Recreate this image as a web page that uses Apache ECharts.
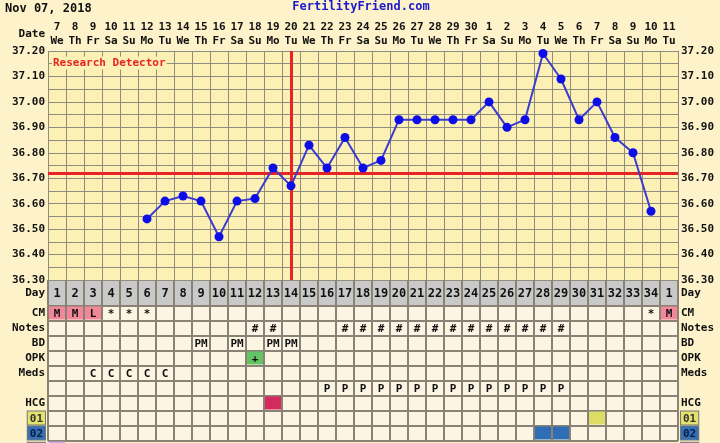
<!DOCTYPE html>
<html><head><meta charset="utf-8">
<script src="https://cdn.jsdelivr.net/npm/echarts@6/dist/echarts.min.js"></script>
<style>html,body{margin:0;padding:0;background:#FDF2C9;}#c{width:720px;height:443px;}</style>
</head><body><div id="c"></div>
<script>
// ---------- DATA ----------
const dates = ['7','8','9','10','11','12','13','14','15','16','17','18','19','20','21','22','23','24','25','26','27','28','29','30','1','2','3','4','5','6','7','8','9','10','11'];
const weekdays = ['We','Th','Fr','Sa','Su','Mo','Tu','We','Th','Fr','Sa','Su','Mo','Tu','We','Th','Fr','Sa','Su','Mo','Tu','We','Th','Fr','Sa','Su','Mo','Tu','We','Th','Fr','Sa','Su','Mo','Tu'];
const cycleDays = ['1','2','3','4','5','6','7','8','9','10','11','12','13','14','15','16','17','18','19','20','21','22','23','24','25','26','27','28','29','30','31','32','33','34','1'];
const temps = [null,null,null,null,null,36.54,36.61,36.63,36.61,36.47,36.61,36.62,36.74,36.67,36.83,36.74,36.86,36.74,36.77,36.93,36.93,36.93,36.93,36.93,37.00,36.90,36.93,37.19,37.09,36.93,37.00,36.86,36.80,36.57,null];
const tempTicks = ['36.30','36.40','36.50','36.60','36.70','36.80','36.90','37.00','37.10','37.20'];
const coverline = 36.72;
const ovulationDay = 14;
const rowNames = ['CM','Notes','BD','OPK','Meds','','HCG','01','02'];
const lastRowName = ['03'];
const cmDays = [1,2,3,4,5,6,34,35];
const cmMarks = ['M','M','L','*','*','*','*','M'];
const notesDays = [12,13,17,18,19,20,21,22,23,24,25,26,27,28,29];
const bdDays = [9,11,13,14];
const opkDays = [12];
const medsDays = [3,4,5,6,7];
const progDays = [16,17,18,19,20,21,22,23,24,25,26,27,28,29];
const hcgDays = [13];
const row01Days = [31];
const row02Days = [28,29];
const row03Days = [1];

// ---------- BUILD ----------
const FONT = '"DejaVu Sans Mono", monospace';
const fills = {CM:'#F3879A', OPK:'#62C462', HCG:'#D52A5E', '01':'#DCDC66', '02':'#2F6DB5', '03':'#C6A8E2'};
const cells = [];
function addRow(row, days, marks) {
  days.forEach((d, i) => {
    const text = Array.isArray(marks) ? marks[i] : marks;
    let fill = null;
    if (row === 'CM') fill = (text === 'M' || text === 'L') ? fills.CM : null;
    else if (fills[row]) fill = fills[row];
    cells.push({x: d - 1, y: rowNames.indexOf(row), text, fill});
  });
}
addRow('CM', cmDays, cmMarks);
addRow('Notes', notesDays, '#');
addRow('BD', bdDays, 'PM');
addRow('OPK', opkDays, '+');
addRow('Meds', medsDays, 'C');
addRow('', progDays, 'P');
addRow('HCG', hcgDays, '');
addRow('01', row01Days, '');
addRow('02', row02Days, '');

const topLabels = dates.map((d, i) => d + '\n' + weekdays[i]);
const lab = {fontFamily: FONT, fontWeight: 'bold', fontSize: 11, color: '#111'};
const G = {left: 48, right: 42};
const tableLine = {color: '#8a8274', width: 2};

const box = (bg, fg) => ({backgroundColor: bg, borderColor: '#777', borderWidth: 1, padding: [2, 2, 0, 2], fontFamily: FONT, fontWeight: 'bold', fontSize: 11, color: fg});
const rich = {r01: box('#E2E26C', '#333'), r02: box('#3370B8', '#0c1c3c'), r03: box('#C6A8E2', '#333')};
function rowLabel(v) {
  if (v === '01') return '{r01|01}';
  if (v === '02') return '{r02|02}';
  if (v === '03') return '{r03|03}';
  return v;
}
const hidden = {axisLine: {show: false}, axisTick: {show: false}};

const chart = echarts.init(document.getElementById('c'), null, {renderer: 'canvas'});
chart.setOption({
  backgroundColor: '#FDF2C9',
  animation: false,
  grid: [
    {left: G.left, right: G.right, top: 51, height: 229, show: true, backgroundColor: '#FCF0B4', borderWidth: 0},
    {left: G.left, right: G.right, top: 280, height: 25.5, show: true, backgroundColor: '#C9C9C9', borderWidth: 0},
    {left: G.left, right: G.right, top: 305.5, height: 135, show: true, backgroundColor: '#FDF5E3', borderWidth: 0},
    {left: G.left, right: G.right, top: 440.5, height: 2.5, show: true, backgroundColor: '#FDF5E3', borderWidth: 0}
  ],
  xAxis: [
    Object.assign({gridIndex: 0, type: 'category', data: cycleDays, axisLabel: {show: false},
     splitLine: {show: true, interval: 0, lineStyle: {color: '#8f8c80', width: 1}}}, hidden),
    Object.assign({gridIndex: 0, type: 'category', position: 'top', data: topLabels,
     axisLabel: Object.assign({interval: 0, margin: 3, lineHeight: 14}, lab)}, hidden),
    Object.assign({gridIndex: 1, type: 'category', data: cycleDays, axisLabel: {show: false},
     splitLine: {show: true, interval: 0, lineStyle: tableLine}}, hidden),
    Object.assign({gridIndex: 2, type: 'category', data: cycleDays, axisLabel: {show: false},
     splitLine: {show: true, interval: 0, lineStyle: tableLine}}, hidden),
    Object.assign({gridIndex: 3, type: 'category', data: cycleDays, axisLabel: {show: false},
     splitLine: {show: true, interval: 0, lineStyle: tableLine}}, hidden)
  ],
  yAxis: [
    Object.assign({gridIndex: 0, type: 'value', min: 36.3, max: 37.2, interval: 0.1, position: 'left',
     axisLabel: Object.assign({margin: 3, formatter: v => tempTicks[Math.round((v - 36.3) * 10)]}, lab),
     splitLine: {show: true, lineStyle: {color: '#8f8c80', width: 1}},
     minorTick: {show: false, splitNumber: 2}, minorSplitLine: {show: true, lineStyle: {color: '#8f8c80', width: 1}}}, hidden),
    Object.assign({gridIndex: 0, type: 'value', min: 36.3, max: 37.2, interval: 0.1, position: 'right',
     axisLabel: Object.assign({margin: 3, formatter: v => tempTicks[Math.round((v - 36.3) * 10)]}, lab),
     splitLine: {show: false}}, hidden),
    Object.assign({gridIndex: 1, type: 'category', data: ['Day'], position: 'left', axisLabel: Object.assign({margin: 3}, lab), splitLine: {show: false}}, hidden),
    Object.assign({gridIndex: 1, type: 'category', data: ['Day'], position: 'right', axisLabel: Object.assign({margin: 3}, lab), splitLine: {show: false}}, hidden),
    Object.assign({gridIndex: 2, type: 'category', data: rowNames, inverse: true, position: 'left',
     axisLabel: Object.assign({margin: 3, interval: 0, formatter: rowLabel, rich}, lab),
     splitLine: {show: true, interval: 0, lineStyle: tableLine}}, hidden),
    Object.assign({gridIndex: 2, type: 'category', data: rowNames, inverse: true, position: 'right',
     axisLabel: Object.assign({margin: 3, interval: 0, formatter: rowLabel, rich}, lab),
     splitLine: {show: false}}, hidden),
    Object.assign({gridIndex: 3, type: 'category', data: lastRowName, position: 'left',
     axisLabel: Object.assign({margin: 3, formatter: rowLabel, rich, verticalAlign: 'top', padding: [2, 0, 0, 0]}, lab),
     splitLine: {show: true, interval: 0, lineStyle: tableLine}}, hidden),
    Object.assign({gridIndex: 3, type: 'category', data: lastRowName, position: 'right',
     axisLabel: Object.assign({margin: 3, formatter: rowLabel, rich, verticalAlign: 'top', padding: [2, 0, 0, 0]}, lab),
     splitLine: {show: false}}, hidden)
  ],
  graphic: [
    {type: 'text', x: 5, y: 9, style: {text: 'Nov 07, 2018', font: 'bold 12px ' + FONT, fill: '#111', verticalAlign: 'middle'}},
    {type: 'text', x: 361, y: 7, style: {text: 'FertilityFriend.com', font: 'bold 12px ' + FONT, fill: '#1a1acc', align: 'center', verticalAlign: 'middle'}},
    {type: 'text', x: 45, y: 34, style: {text: 'Date', font: 'bold 11px ' + FONT, fill: '#111', align: 'right', verticalAlign: 'middle'}},
    {type: 'text', x: 52, y: 63, z: 10, style: {text: 'Research Detector', font: 'bold 11px ' + FONT, fill: '#E82424', verticalAlign: 'middle', backgroundColor: '#FCF0B4', padding: [1, 1]}}
  ],
  series: [
    {type: 'line', xAxisIndex: 0, yAxisIndex: 0, data: temps, connectNulls: false,
     lineStyle: {color: '#3b3bd0', width: 2}, symbol: 'circle', symbolSize: 9, showSymbol: true,
     itemStyle: {color: '#0d0de8'}, z: 5,
     markLine: {silent: true, symbol: 'none', label: {show: false}, animation: false,
       lineStyle: {color: '#E82424', width: 3, type: 'solid'},
       data: [{xAxis: ovulationDay - 1}, {yAxis: coverline}]}},
    {type: 'custom', xAxisIndex: 2, yAxisIndex: 2, data: cycleDays.map((d, i) => [i, 0]),
     renderItem: (params, api) => {
       const c = api.coord([api.value(0), api.value(1)]);
       return {type: 'text', x: c[0], y: c[1] + 1, style: {text: cycleDays[params.dataIndex], font: 'bold 12px ' + FONT, fill: '#111', align: 'center', verticalAlign: 'middle'}};
     }},
    {type: 'custom', xAxisIndex: 3, yAxisIndex: 4, data: cells.map(c => [c.x, c.y]),
     renderItem: (params, api) => {
       const cell = cells[params.dataIndex];
       const c = api.coord([api.value(0), api.value(1)]);
       const s = api.size([1, 1]);
       const children = [];
       if (cell.fill) children.push({type: 'rect', shape: {x: c[0] - s[0] / 2 + 1, y: c[1] - s[1] / 2 + 1, width: s[0] - 2, height: s[1] - 2}, style: {fill: cell.fill}});
       if (cell.text) children.push({type: 'text', x: c[0], y: c[1] + 1, style: {text: cell.text, font: 'bold 11px ' + FONT, fill: '#111', align: 'center', verticalAlign: 'middle'}});
       return {type: 'group', children};
     }},
    {type: 'custom', xAxisIndex: 4, yAxisIndex: 6, data: row03Days.map(d => [d - 1, 0]),
     renderItem: (params, api) => {
       const c = api.coord([api.value(0), api.value(1)]);
       const s = api.size([1, 1]);
       return {type: 'rect', shape: {x: c[0] - s[0] / 2 + 1, y: c[1] - s[1] / 2 + 1, width: s[0] - 2, height: 12}, style: {fill: fills['03']}};
     }}
  ]
});
</script></body></html>
